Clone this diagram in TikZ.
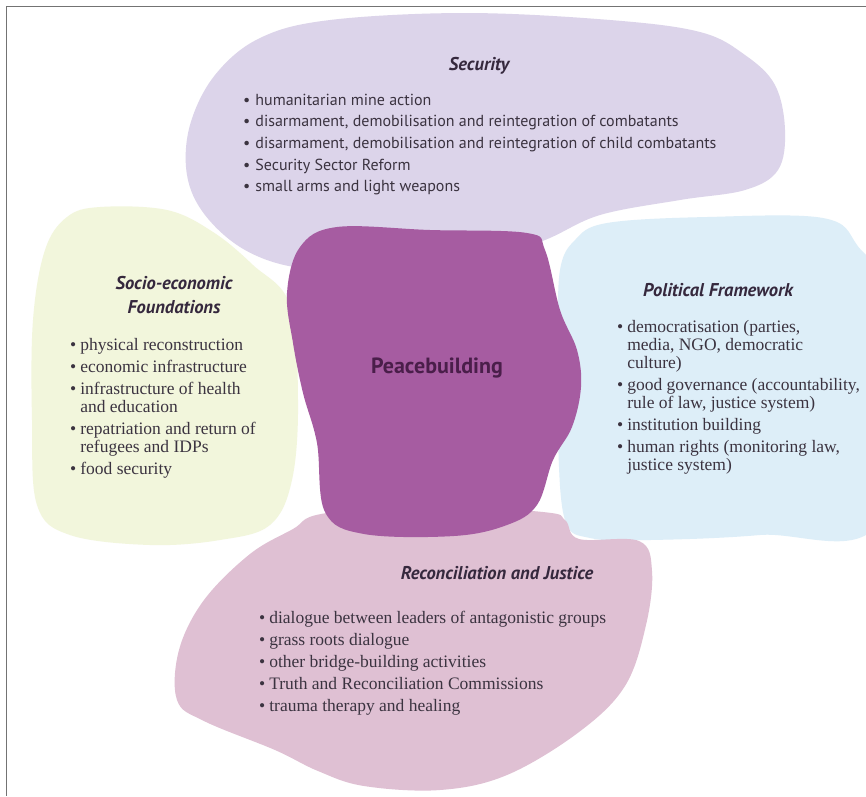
\documentclass[tikz,border=0pt]{standalone}
\usepackage{fontspec}
\setmainfont{Liberation Serif}
\setsansfont{PT Sans}
\usepackage{xcolor}
\definecolor{secfill}{HTML}{DCD4EA}
\definecolor{socfill}{HTML}{F2F6DC}
\definecolor{polfill}{HTML}{DDEEF8}
\definecolor{recfill}{HTML}{DFC0D3}
\definecolor{peacefill}{HTML}{A65CA1}
\definecolor{inktext}{HTML}{3B3340}
\definecolor{inkhead}{HTML}{35283D}
\definecolor{inkpeace}{HTML}{4A1E4A}

\begin{document}
\begin{tikzpicture}[x=1pt,y=-1pt]
\tikzstyle{every node}+=[inner sep=0pt, text=inktext]
\tikzstyle{heading}=[align=center, text=inkhead, font=\sffamily\bfseries\itshape\fontsize{18.5}{24}\selectfont]
\tikzstyle{sansitems}=[anchor=base west, font=\sffamily\fontsize{16}{21.7}\selectfont]
\tikzstyle{serifitems}=[anchor=base west, font=\fontsize{17.5}{18}\selectfont]
\useasboundingbox (0,0) rectangle (866,796);
\fill [white] (0,0) rectangle (866,796);
\begin{scope}
\clip (0,0) rectangle (866,796);
% the four fields round the centre
\fill [secfill] plot [smooth cycle, tension=0.6] coordinates {(190,125) (215,75) (260,38) (330,20) (466,13) (610,20) (700,32) (745,55) (775,85) (785,130) (778,170) (745,190) (680,200) (600,215) (545,240) (480,262) (380,270) (300,268) (245,250) (205,215) (187,175)};
\fill [socfill] plot [smooth cycle, tension=0.6] coordinates {(67,217) (100,207) (167,210) (213,232) (253,265) (290,305) (298,400) (292,480) (270,525) (220,540) (150,545) (70,535) (37,505) (32,420) (33,320) (45,250)};
\fill [polfill] plot [smooth cycle, tension=0.6] coordinates {(560,270) (575,240) (607,223) (707,217) (823,218) (857,245) (880,300) (880,520) (760,535) (650,540) (590,538) (565,520) (558,440) (558,340)};
\fill [recfill] plot [smooth cycle, tension=0.6] coordinates {(321,514) (420,505) (543,512) (565,520) (579,539) (639,541) (652,571) (646,625) (625,686) (579,732) (507,775) (440,790) (364,786) (318,771) (275,750) (204,721) (177,700) (179,650) (204,600) (250,554) (293,529)};
% centre
\fill [peacefill] plot [smooth cycle, tension=0.6] coordinates {(300,247) (337,227) (430,230) (527,233) (545,250) (560,310) (577,350) (581,387) (572,427) (553,460) (537,505) (507,525) (454,536) (364,534) (325,512) (317,443) (303,393) (293,343) (287,293)};
\end{scope}
\draw [black!55, line width=1.3pt] (866,6.5) -- (6.5,6.5) -- (6.5,796);

\node [text=inkpeace, font=\sffamily\bfseries\fontsize{22}{24}\selectfont] (peace) at (437,368) {Peacebuilding};

\node [heading] (sechead) at (479,66) {Security};
\node [sansitems] (secitems) at (243,105) {\begin{tabular}[t]{@{}l@{\hspace{5pt}}l@{}}
\textbullet & humanitarian mine action\\
\textbullet & disarmament, demobilisation and reintegration of combatants\\
\textbullet & disarmament, demobilisation and reintegration of child combatants\\
\textbullet & Security Sector Reform\\
\textbullet & small arms and light weapons
\end{tabular}};

\node [heading] (sochead) at (174,295) {Socio-economic\\Foundations};
\node [serifitems] (socitems) at (70,350) {\begin{tabular}[t]{@{}l@{\hspace{4pt}}l@{}}
\textbullet & physical reconstruction\\[4pt]
\textbullet & economic infrastructure\\[4pt]
\textbullet & infrastructure of health\\
 & and education\\[4pt]
\textbullet & repatriation and return of\\
 & refugees and IDPs\\[4pt]
\textbullet & food security
\end{tabular}};

\node [heading] (polhead) at (718,290) {Political Framework};
\node [serifitems] (politems) at (617,332) {\begin{tabular}[t]{@{}l@{\hspace{4pt}}l@{}}
\textbullet & democratisation (parties,\\
 & media, NGO, democratic\\
 & culture)\\[4pt]
\textbullet & good governance (accountability,\\
 & rule of law, justice system)\\[4pt]
\textbullet & institution building\\[4pt]
\textbullet & human rights (monitoring law,\\
 & justice system)
\end{tabular}};

\node [heading] (rechead) at (497,573) {Reconciliation and Justice};
\node [serifitems] (recitems) at (259,623) {\begin{tabular}[t]{@{}l@{\hspace{4pt}}l@{}}
\textbullet & dialogue between leaders of antagonistic groups\\[4pt]
\textbullet & grass roots dialogue\\[4pt]
\textbullet & other bridge-building activities\\[4pt]
\textbullet & Truth and Reconciliation Commissions\\[4pt]
\textbullet & trauma therapy and healing
\end{tabular}};
\end{tikzpicture}
\end{document}
